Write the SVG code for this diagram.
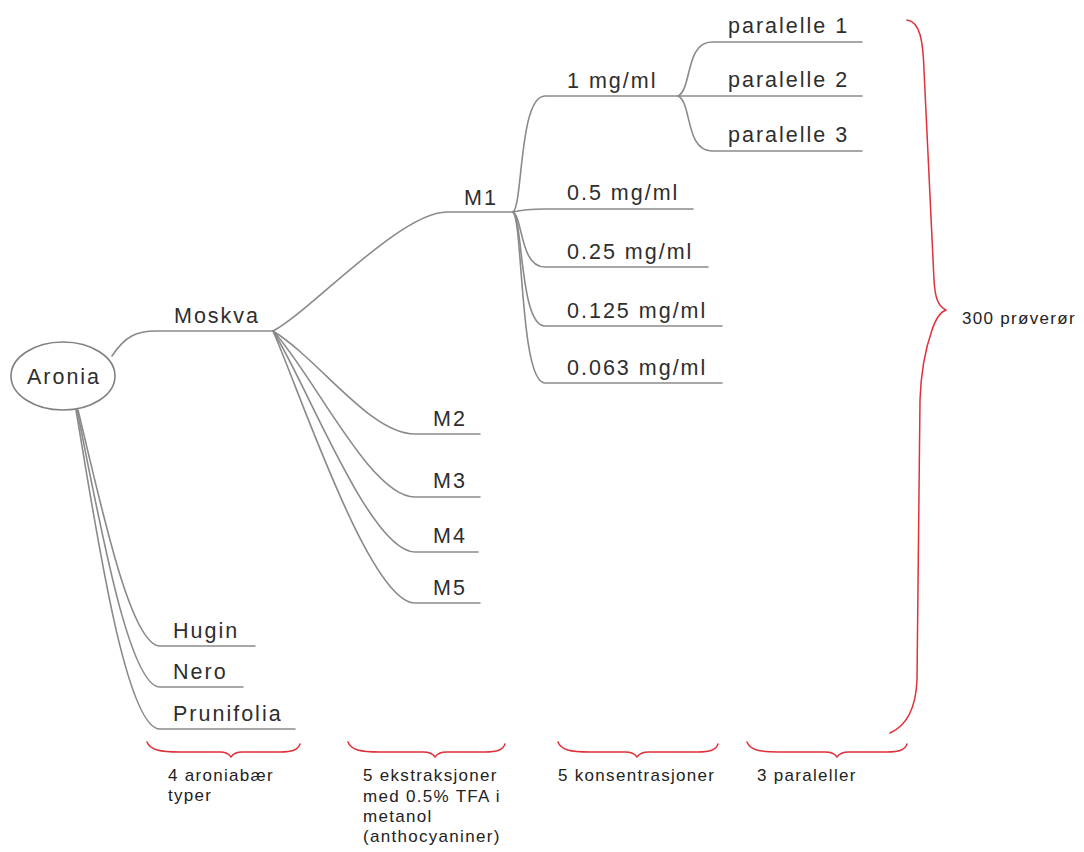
<svg xmlns="http://www.w3.org/2000/svg" width="1084" height="852" viewBox="0 0 1084 852">
<style>
.c{fill:none;stroke:#8a8a8a;stroke-width:1.6;stroke-linecap:round}
.b{fill:none;stroke:#e0303a;stroke-width:1.5;stroke-linecap:round;stroke-linejoin:round}
.t{font-family:"Liberation Sans",Arial,sans-serif;font-size:21.5px;letter-spacing:2px;fill:#2e2e2e}
.s{font-family:"Liberation Sans",Arial,sans-serif;font-size:17px;letter-spacing:1.3px;fill:#222}
</style>
<rect width="1084" height="852" fill="#fff"/>
<g id="connectors">
<path class="c" d="M112,356 C125,336 137,331 156,331 L273,331"/>
<path class="c" d="M273,331 C310,312 400,212 447,212 L513,212"/>
<path class="c" d="M273,331 C320,360 370,434 415,434 L480,434"/>
<path class="c" d="M273,331 C312,372 370,497 415,497 L480,497"/>
<path class="c" d="M273,331 C306,382 370,552 415,552 L478,552"/>
<path class="c" d="M273,331 C300,392 370,603 415,603 L480,603"/>
<path class="c" d="M513,212 C523,205 519,96 545,96 L678,96"/>
<path class="c" d="M513,212 Q525,209 545,209 L693,209"/>
<path class="c" d="M513,212 C523,218 520,267 545,267 L708,267"/>
<path class="c" d="M513,212 C523,220 520,326 545,326 L722,326"/>
<path class="c" d="M513,212 C523,222 520,383 545,383 L722,383"/>
<path class="c" d="M678,96 C692,90 685,42 712,42 L862,42"/>
<path class="c" d="M678,96 L862,96"/>
<path class="c" d="M678,96 C692,102 685,151 712,151 L862,151"/>
<path class="c" d="M78,410 C100,500 130,646 160,646 L255,646"/>
<path class="c" d="M77,410 C98,512 128,687 160,687 L243,687"/>
<path class="c" d="M76,410 C95,522 125,729 160,729 L295,729"/>
</g>
<g id="aronia">
<ellipse cx="63" cy="376" rx="52" ry="34" fill="#fff" stroke="#808080" stroke-width="1.6"/>
<text class="t" x="64" y="384" text-anchor="middle">Aronia</text>
</g>
<g id="moskva"><text class="t" x="174" y="323">Moskva</text></g>
<g id="m1"><text class="t" x="464" y="205">M1</text></g>
<g id="m2"><text class="t" x="433" y="426">M2</text></g>
<g id="m3"><text class="t" x="433" y="488">M3</text></g>
<g id="m4"><text class="t" x="433" y="543">M4</text></g>
<g id="m5"><text class="t" x="433" y="595">M5</text></g>
<g id="c1"><text class="t" x="567" y="88">1 mg/ml</text></g>
<g id="c05"><text class="t" x="567" y="200">0.5 mg/ml</text></g>
<g id="c025"><text class="t" x="567" y="259">0.25 mg/ml</text></g>
<g id="c0125"><text class="t" x="567" y="318">0.125 mg/ml</text></g>
<g id="c0063"><text class="t" x="567" y="375">0.063 mg/ml</text></g>
<g id="p1"><text class="t" x="728" y="33">paralelle 1</text></g>
<g id="p2"><text class="t" x="728" y="87">paralelle 2</text></g>
<g id="p3"><text class="t" x="728" y="142">paralelle 3</text></g>
<g id="hugin"><text class="t" x="173" y="638">Hugin</text></g>
<g id="nero"><text class="t" x="173" y="679">Nero</text></g>
<g id="prunifolia"><text class="t" x="173" y="721">Prunifolia</text></g>
<g id="braces">
<path class="b" d="M907,20 C920,22 923,40 924,70 L934,280 C935,298 938,306 946,310 C940,312 936,318 932,330 C925,350 921,370 920,400 L917,680 C916,705 908,725 890,733"/>
<path class="b" d="M147,742 C150,750 160,752 180,752 L220,752 C226,752 229,754 231,757 C233,754 236,752 242,752 L280,752 C292,752 298,750 300,744"/>
<path class="b" d="M348,742 C351,750 360,752 380,752 L423,752 C430,752 433,754 435,757 C437,754 440,752 447,752 L485,752 C497,752 503,750 505,744"/>
<path class="b" d="M558,742 C561,750 570,752 590,752 L625,752 C632,752 635,754 637,757 C639,754 642,752 649,752 L698,752 C710,752 716,750 718,744"/>
<path class="b" d="M747,742 C750,750 759,752 779,752 L825,752 C832,752 835,754 837,757 C839,754 842,752 849,752 L887,752 C899,752 905,750 907,744"/>
</g>
<g id="labels">
<text class="s" x="962" y="324">300 prøverør</text>
<text class="s" x="168" y="781">4 aroniabær</text>
<text class="s" x="168" y="801">typer</text>
<text class="s" x="363" y="781">5 ekstraksjoner</text>
<text class="s" x="363" y="802">med 0.5% TFA i</text>
<text class="s" x="363" y="822">metanol</text>
<text class="s" x="363" y="842">(anthocyaniner)</text>
<text class="s" x="558" y="781">5 konsentrasjoner</text>
<text class="s" x="757" y="781">3 paraleller</text>
</g>
</svg>
